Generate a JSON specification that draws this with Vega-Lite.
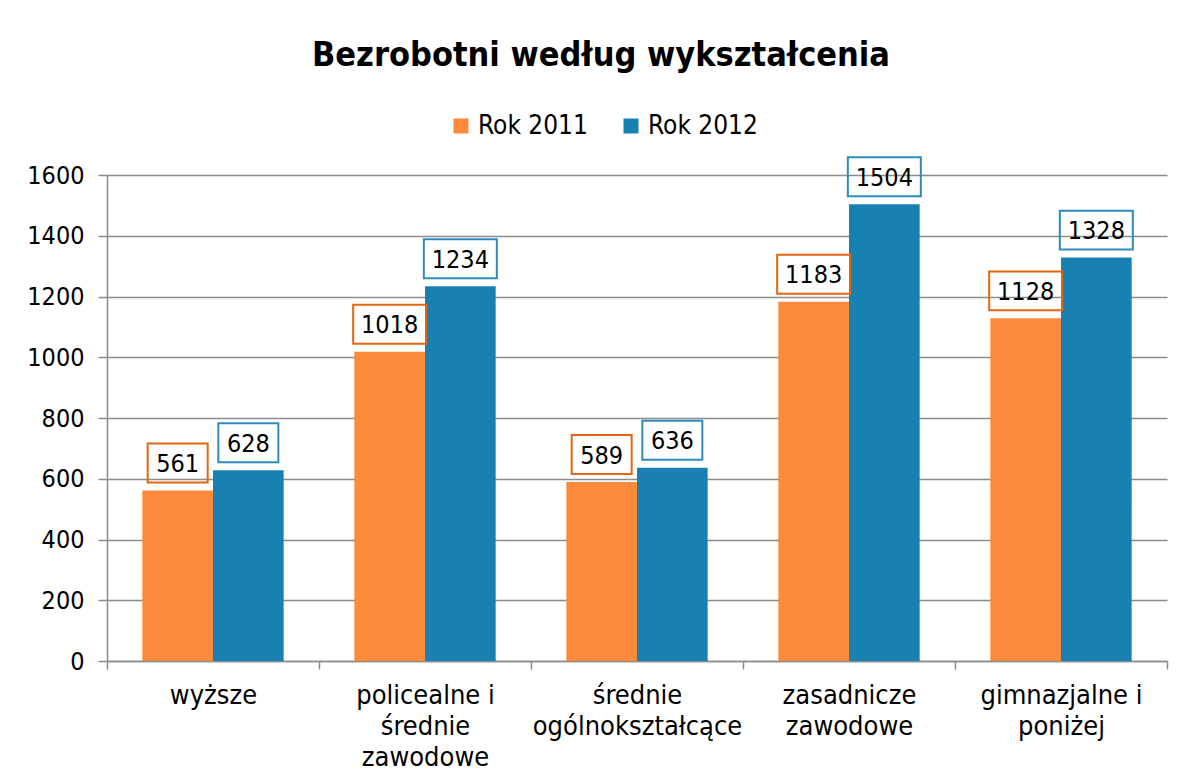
{
  "$schema": "https://vega.github.io/schema/vega-lite/v6.json",
  "width": 1060,
  "height": 486,
  "autosize": "none",
  "padding": {"left": 107, "top": 175, "right": 15, "bottom": 120},
  "background": "white",
  "config": {"view": {"stroke": null}},
  "title": {
    "text": "Bezrobotni według wykształcenia",
    "font": "DejaVu Sans Condensed",
    "fontSize": 34,
    "fontWeight": "bold",
    "color": "#000000",
    "anchor": "middle",
    "frame": "group",
    "dx": -36,
    "offset": 13,
    "baseline": "alphabetic"
  },
  "data": {
    "values": [
      {"kat": "wyższe", "rok": "Rok 2011", "value": 561},
      {"kat": "wyższe", "rok": "Rok 2012", "value": 628},
      {"kat": "policealne i|średnie|zawodowe", "rok": "Rok 2011", "value": 1018},
      {"kat": "policealne i|średnie|zawodowe", "rok": "Rok 2012", "value": 1234},
      {"kat": "średnie|ogólnokształcące", "rok": "Rok 2011", "value": 589},
      {"kat": "średnie|ogólnokształcące", "rok": "Rok 2012", "value": 636},
      {"kat": "zasadnicze|zawodowe", "rok": "Rok 2011", "value": 1183},
      {"kat": "zasadnicze|zawodowe", "rok": "Rok 2012", "value": 1504},
      {"kat": "gimnazjalne i|poniżej", "rok": "Rok 2011", "value": 1128},
      {"kat": "gimnazjalne i|poniżej", "rok": "Rok 2012", "value": 1328}
    ]
  },
  "encoding": {
    "x": {
      "field": "kat",
      "type": "nominal",
      "sort": null,
      "scale": {"paddingInner": 0, "paddingOuter": 0},
      "axis": {
        "title": null,
        "labelExpr": "split(datum.label, '|')",
        "labelAngle": 0,
        "tickBand": "extent",
        "tickSize": 8,
        "tickWidth": 1.5,
        "tickColor": "#8c8c8c",
        "domainColor": "#8c8c8c",
        "domainWidth": 1.5,
        "labelPadding": 13,
        "labelFont": "DejaVu Sans Condensed",
        "labelFontSize": 27,
        "labelLineHeight": 31,
        "labelLimit": 400,
        "labelColor": "#000000"
      }
    },
    "xOffset": {
      "field": "rok",
      "type": "nominal",
      "scale": {"paddingInner": 0, "paddingOuter": 0.5}
    },
    "y": {
      "field": "value",
      "type": "quantitative",
      "scale": {"domain": [0, 1600], "nice": false},
      "axis": {
        "title": null,
        "values": [0, 200, 400, 600, 800, 1000, 1200, 1400, 1600],
        "format": "d",
        "grid": true,
        "gridColor": "#8c8c8c",
        "gridWidth": 1.5,
        "domainColor": "#8c8c8c",
        "domainWidth": 1.5,
        "tickColor": "#8c8c8c",
        "tickWidth": 1.5,
        "tickSize": 9,
        "labelPadding": 14,
        "labelFont": "DejaVu Sans Condensed",
        "labelFontSize": 25,
        "labelColor": "#000000"
      }
    }
  },
  "layer": [
    {
      "mark": {"type": "bar"},
      "encoding": {
        "color": {
          "field": "rok",
          "type": "nominal",
          "scale": {"range": ["#FD8A3A", "#1881B2"]},
          "legend": {
            "orient": "none",
            "legendX": 341,
            "legendY": -62,
            "direction": "horizontal",
            "title": null,
            "symbolType": "square",
            "symbolSize": 225,
            "symbolStrokeWidth": 0,
            "labelFont": "DejaVu Sans Condensed",
            "labelFontSize": 26,
            "labelColor": "#000000",
            "labelOffset": 4,
            "columnPadding": 30,
            "padding": 0
          }
        }
      }
    },
    {
      "mark": {"type": "point", "filled": false, "strokeWidth": 2, "size": 5329, "yOffset": -27.5, "opacity": 1},
      "encoding": {
        "shape": {
          "condition": {"test": "datum.value >= 1000", "value": "M-1,-0.534H1V0.534H-1Z"},
          "value": "M-0.822,-0.534H0.822V0.534H-0.822Z"
        },
        "stroke": {
          "field": "rok",
          "type": "nominal",
          "scale": {"range": ["#E8650F", "#2E8BC0"]},
          "legend": null
        }
      }
    },
    {
      "mark": {"type": "text", "yOffset": -27.5, "baseline": "middle", "dy": 1, "font": "DejaVu Sans Condensed", "fontSize": 25, "color": "#000000"},
      "encoding": {"text": {"field": "value", "type": "quantitative"}}
    }
  ]
}
